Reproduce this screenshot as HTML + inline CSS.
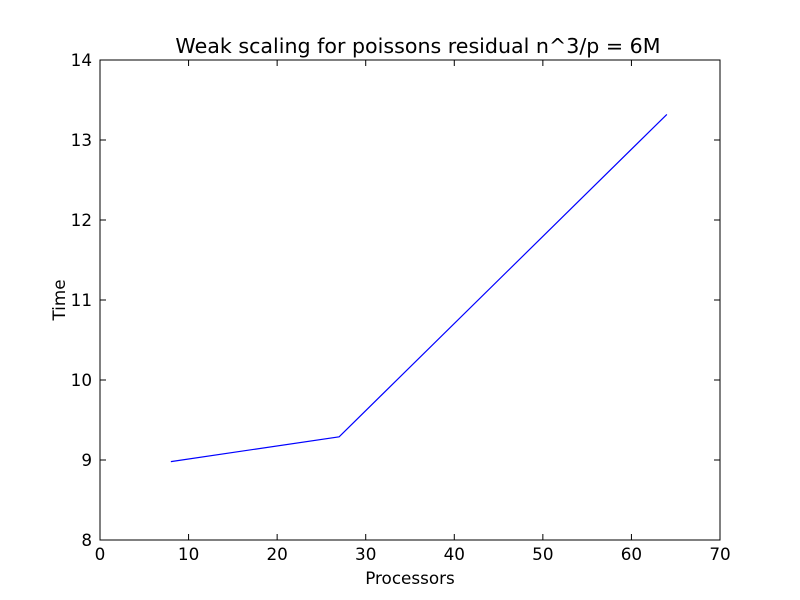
<!DOCTYPE html>
<html><head><meta charset="utf-8"><style>
body{margin:0;background:#fff}
svg{display:block}
text{font-family:"DejaVu Sans","Liberation Sans",sans-serif;fill:#000}
</style></head><body>
<svg id="chart" width="800" height="600">
<rect width="800" height="600" fill="#fff"/>
<g id="ticks"></g>
<polyline id="series" fill="none" stroke="#0000ff" stroke-width="1.2"/>
<rect x="100" y="60" width="620" height="480" fill="none" stroke="#000" stroke-width="1"/>
<text x="418" y="53" text-anchor="middle" font-size="20.6">Weak scaling for poissons residual n^3/p = 6M</text>
<text x="410" y="584" text-anchor="middle" font-size="16.8">Processors</text>
<text x="65" y="300" text-anchor="middle" font-size="16.8" transform="rotate(-90 65 300)">Time</text>
</svg>
<script>
const processors = [8, 27, 64];
const times = [8.98, 9.29, 13.32];
const xTicks = [0, 10, 20, 30, 40, 50, 60, 70];
const yTicks = [8, 9, 10, 11, 12, 13, 14];
const L=100,R=720,T=60,B=540;
function sx(v){return L+(v-0)/(70-0)*(R-L);}
function sy(v){return B-(v-8)/(14-8)*(B-T);}
const NS="http://www.w3.org/2000/svg";
const g=document.getElementById('ticks');
function mk(tag,attrs){const e=document.createElementNS(NS,tag);for(const k in attrs)e.setAttribute(k,attrs[k]);return e;}
xTicks.forEach(v=>{
  const x=sx(v);
  const t1=mk('line',{x1:x,x2:x,y1:B,y2:B-6,stroke:'#000'});
  
  
  g.appendChild(t1);
  const t2=mk('line',{x1:x,x2:x,y1:T,y2:T+6,stroke:'#000'});
  
  
  g.appendChild(t2);
  const lb=mk('text',{x:x,y:B+20,'text-anchor':'middle','font-size':16.8});
  lb.textContent=v;
  
  
  g.appendChild(lb);
});
yTicks.forEach(v=>{
  const y=sy(v);
  const t1=mk('line',{x1:L,x2:L+6,y1:y,y2:y,stroke:'#000'});
  
  
  g.appendChild(t1);
  const t2=mk('line',{x1:R,x2:R-6,y1:y,y2:y,stroke:'#000'});
  
  
  g.appendChild(t2);
  const lb=mk('text',{x:L-8,y:y+6,'text-anchor':'end','font-size':16.8});
  lb.textContent=v;
  
  
  g.appendChild(lb);
});
document.getElementById('series').setAttribute('points',processors.map((p,i)=>sx(p)+','+sy(times[i])).join(' '));
</script>
</body></html>
